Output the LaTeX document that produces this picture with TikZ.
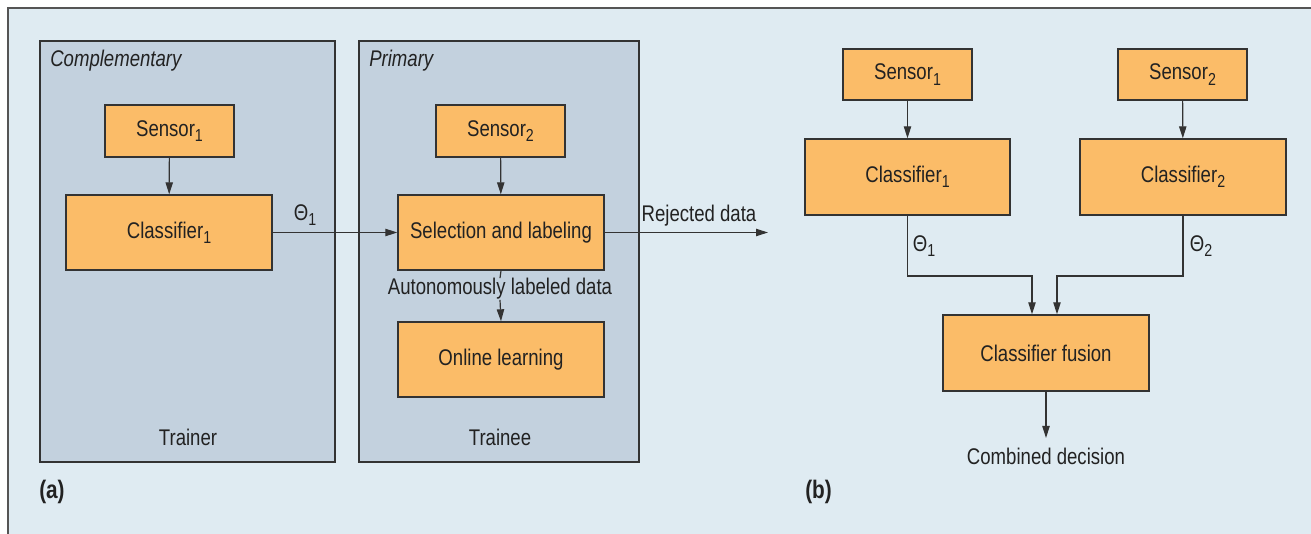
\documentclass[tikz,border=0pt]{standalone}
\usepackage{fontspec}
\setmainfont{Liberation Sans}[FakeStretch=0.82]
\usetikzlibrary{fit,arrows.meta}
\definecolor{bgcol}{HTML}{DFEBF2}
\definecolor{groupcol}{HTML}{C3D1DE}
\definecolor{boxcol}{HTML}{FBBC68}
\definecolor{linecol}{HTML}{333333}
\definecolor{framecol}{HTML}{555555}
\definecolor{txtcol}{HTML}{222222}
\newcommand{\mysub}[1]{\raisebox{-0.45ex}{\fontsize{13}{15}\selectfont #1}}
\tikzset{
  box/.style={draw=linecol, fill=boxcol, line width=1pt, inner sep=0pt},
  group/.style={draw=linecol, fill=groupcol, line width=1pt, inner sep=0pt},
  arr/.style={draw=linecol, line width=0.9pt, -{Triangle[length=9pt,width=5.5pt]}},
  plain/.style={draw=linecol, line width=0.9pt},
  lbl/.style={inner sep=0pt, text=txtcol},
  boxtext/.style={label={[lbl]center:#1}},
}
\begin{document}
\begin{tikzpicture}[x=0.75pt,y=-0.75pt, font=\fontsize{17}{20}\selectfont]
\useasboundingbox (0,0) rectangle (1311,534);
\fill[bgcol] (8,8) rectangle (1311,534);
\draw[framecol, line width=1.1pt] (8,534) -- (8,8) -- (1311,8);

% ---- (a) ----
\node[group, fit={(40,41)(335,462)}] (comp) {};
\node[group, fit={(359,41)(639,462)}] (prim) {};
\node[lbl, anchor=base west, font=\fontsize{17}{20}\selectfont\itshape] (complab) at (50,67) {Complementary};
\node[lbl, anchor=base west, font=\fontsize{17}{20}\selectfont\itshape] (primlab) at (369,67) {Primary};

\node[box, fit={(105,105)(234,157)}, boxtext={Sensor\mysub{1}}] (s1a) {};
\node[box, fit={(66,195)(272,270)}, boxtext={Classifier\mysub{1}}] (c1a) {};
\node[box, fit={(436,105)(565,157)}, boxtext={Sensor\mysub{2}}] (s2a) {};
\node[box, fit={(398,195)(604,270)}, boxtext={Selection and labeling}] (sel) {};
\node[box, fit={(398,322)(604,397)}, boxtext={Online learning}] (ol) {};

\node[lbl] (ald) at (500,289) {Autonomously labeled data};
\node[lbl] (thA) at (305,215) {Θ\mysub{1}};
\node[lbl] (rej) at (699,216) {Rejected data};
\coordinate (rejend) at (768,232.5);
\node[lbl] (trainer) at (188,437) {Trainer};
\node[lbl] (trainee) at (500,437) {Trainee};
\node[lbl, anchor=west, font=\fontsize{19}{22}\selectfont\bfseries] (la) at (39,492) {(a)};

\draw[arr] (s1a) -- (c1a);
\draw[arr] (s2a) -- (sel);
\draw[arr] (c1a) -- (sel);
\draw[arr] (sel.east) -- (rejend);
\draw[plain] (sel.south) -- (ald.north);
\draw[arr] (ald.south) -- (ol.north);

% ---- (b) ----
\node[box, fit={(843,49)(972,100)}, boxtext={Sensor\mysub{1}}] (s1b) {};
\node[box, fit={(1118,49)(1247,100)}, boxtext={Sensor\mysub{2}}] (s2b) {};
\node[box, fit={(805,139)(1010,215)}, boxtext={Classifier\mysub{1}}] (c1b) {};
\node[box, fit={(1080,139)(1286,215)}, boxtext={Classifier\mysub{2}}] (c2b) {};
\node[box, fit={(943,315)(1149,391)}, boxtext={Classifier fusion}] (fus) {};
\node[lbl] (th1) at (924,246) {Θ\mysub{1}};
\node[lbl] (th2) at (1201,246) {Θ\mysub{2}};
\coordinate (j1) at (1032,276);
\coordinate (j2) at (1057,276);
\coordinate (outb) at (1046,438);
\node[lbl] (comb) at (1046,456) {Combined decision};
\node[lbl, anchor=west, font=\fontsize{19}{22}\selectfont\bfseries] (lb) at (805,492) {(b)};

\draw[arr] (s1b) -- (c1b);
\draw[arr] (s2b) -- (c2b);
\draw[arr] (c1b.south) |- (j1) -- (j1 |- fus.north);
\draw[arr] (c2b.south) |- (j2) -- (j2 |- fus.north);
\draw[arr] (fus.south) -- (outb);
\end{tikzpicture}
\end{document}
